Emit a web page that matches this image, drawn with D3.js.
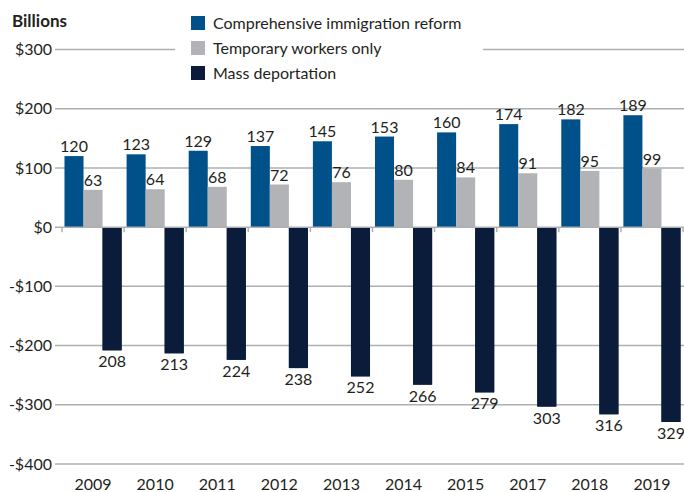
<!DOCTYPE html>
<html>
<head>
<meta charset="utf-8">
<script src="https://cdn.jsdelivr.net/npm/d3@7"></script>
<style>
  body { margin: 0; background: #fff; }
  text { font-family: Lato, "Open Sans", sans-serif; fill: #231f20; }
</style>
</head>
<body>
<div id="chart"></div>
<script>
const years = ["2009","2010","2011","2012","2013","2014","2015","2017","2018","2019"];
const reforma = [120,123,129,137,145,153,160,174,182,189];
const temporales = [63,64,68,72,76,80,84,91,95,99];
const deportacion = [-208,-213,-224,-238,-252,-266,-279,-303,-316,-329];
const series = ["Comprehensive immigration reform","Temporary workers only","Mass deportation"];
const colores = ["#00518a","#b1b3b6","#0b1c3b"];
const yTicks = [300,200,100,0,-100,-200,-300,-400];

const width = 684, height = 492;
const svg = d3.select("#chart")
    .append("svg")
    .attr("width", width)
    .attr("height", height);

const x = d3.scaleBand()
    .domain(years)
    .range([62, 683])
    .paddingInner(0.08)
    .paddingOuter(0.04);

const x1 = d3.scaleBand()
    .domain(series)
    .range([0, x.bandwidth()]);

const y = d3.scaleLinear()
    .domain([-400, 300])
    .range([464, 49.5]);

const fmt = v => (v < 0 ? "-$" : "$") + Math.abs(v);
const gris = "#adafb1";

// gridlines
yTicks.filter(t => t !== 0).forEach(t => {
    if (t === 300) {
        svg.append("line").attr("x1", 55).attr("x2", 175).attr("y1", y(t)).attr("y2", y(t))
            .attr("stroke", gris).attr("stroke-width", 1.5);
        svg.append("line").attr("x1", 483).attr("x2", 684).attr("y1", y(t)).attr("y2", y(t))
            .attr("stroke", gris).attr("stroke-width", 1.5);
    } else {
        svg.append("line").attr("x1", 55).attr("x2", 684).attr("y1", y(t)).attr("y2", y(t))
            .attr("stroke", gris).attr("stroke-width", 1.5);
    }
});

svg.selectAll(".ylabel")
    .data(yTicks)
    .enter()
    .append("text")
    .attr("x", 52)
    .attr("y", d => y(d))
    .attr("dy", "0.35em")
    .attr("text-anchor", "end")
    .attr("font-size", "16px")
    .text(fmt);

svg.append("text")
    .attr("x", 12)
    .attr("y", 27)
    .attr("font-size", "17px")
    .attr("font-weight", "bold")
    .text("Billions");

const datos = years.map((yr, i) => ({
    year: yr,
    valores: [reforma[i], temporales[i], deportacion[i]]
}));

const grupos = svg.selectAll(".grupo")
    .data(datos)
    .enter()
    .append("g")
    .attr("transform", d => `translate(${x(d.year)},0)`);

grupos.selectAll("rect")
    .data(d => d.valores.map((v, j) => ({ serie: series[j], v: v, c: colores[j] })))
    .enter()
    .append("rect")
    .attr("x", d => x1(d.serie))
    .attr("width", x1.bandwidth())
    .attr("y", d => y(Math.max(0, d.v)))
    .attr("height", d => Math.abs(y(d.v) - y(0)))
    .attr("fill", d => d.c);

grupos.selectAll(".vlabel")
    .data(d => d.valores.map((v, j) => ({ serie: series[j], v: v })))
    .enter()
    .append("text")
    .attr("x", d => x1(d.serie) + x1.bandwidth() / 2)
    .attr("y", d => d.v >= 0 ? y(d.v) - 4 : y(d.v) + 17)
    .attr("text-anchor", "middle")
    .attr("font-size", "16px")
    .text(d => Math.abs(d.v));

// zero axis
svg.append("line")
    .attr("x1", 55).attr("x2", 684)
    .attr("y1", y(0)).attr("y2", y(0))
    .attr("stroke", gris).attr("stroke-width", 1.5);

const bordes = d3.range(years.length + 1).map(i => 62 + i * x.step());
svg.selectAll(".tick")
    .data(bordes)
    .enter()
    .append("line")
    .attr("x1", d => Math.min(d, 683)).attr("x2", d => Math.min(d, 683))
    .attr("y1", y(0)).attr("y2", y(0) + 5)
    .attr("stroke", gris).attr("stroke-width", 1.5);

// redraw negative bars over the axis line
grupos.selectAll(".neg")
    .data(d => [{ v: d.valores[2] }])
    .enter()
    .append("rect")
    .attr("x", x1(series[2]))
    .attr("width", x1.bandwidth())
    .attr("y", y(0))
    .attr("height", d => y(d.v) - y(0))
    .attr("fill", colores[2]);

svg.selectAll(".xlabel")
    .data(years)
    .enter()
    .append("text")
    .attr("x", d => x(d) + x.bandwidth() / 2)
    .attr("y", 490)
    .attr("text-anchor", "middle")
    .attr("font-size", "16px")
    .text(d => d);

// legend
const leyenda = svg.selectAll(".leyenda")
    .data(series)
    .enter()
    .append("g")
    .attr("transform", (d, i) => `translate(191,${23 + i * 25})`);
leyenda.append("rect")
    .attr("x", 0).attr("y", -7)
    .attr("width", 14).attr("height", 14)
    .attr("fill", (d, i) => colores[i]);
leyenda.append("text")
    .attr("x", 22)
    .attr("y", 0)
    .attr("dy", "0.35em")
    .attr("font-size", "16px")
    .text(d => d);
</script>
</body>
</html>
